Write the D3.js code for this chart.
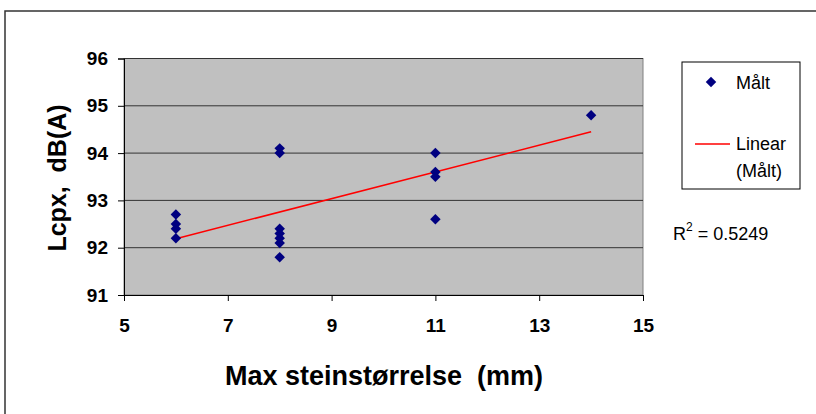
<!DOCTYPE html>
<html>
<head>
<meta charset="utf-8">
<script src="https://cdn.jsdelivr.net/npm/d3@7"></script>
<style>
  body { margin: 0; background: #fff; }
  text { font-family: "Liberation Sans", Arial, sans-serif; }
</style>
</head>
<body>
<div class="chart"></div>
<script>
// measured values (Max steinstørrelse vs Lcpx)
var stoneSize = [6, 6, 6, 6, 8, 8, 8, 8, 8, 8, 8, 11, 11, 11, 11, 14];
var lcpx = [92.7, 92.5, 92.4, 92.2, 94.1, 94.0, 92.4, 92.3, 92.2, 92.1, 91.8, 94.0, 93.6, 93.5, 92.6, 94.8];

// linear trend line endpoints
var trendX = [6, 14];
var trendY = [92.19, 94.45];

var xTicks = [5, 7, 9, 11, 13, 15];
var yTicks = [91, 92, 93, 94, 95, 96];
var rSquared = "0.5249";

var svgWidth = 816, svgHeight = 414;
var margin = { top: 58.5, left: 124, right: 173, bottom: 119 };
var width = svgWidth - margin.left - margin.right;
var height = svgHeight - margin.top - margin.bottom;

var svg = d3.select(".chart")
    .append("svg")
    .attr("width", svgWidth)
    .attr("height", svgHeight);

// outer chart border
svg.append("rect")
    .attr("x", 5).attr("y", 11)
    .attr("width", 830).attr("height", 430)
    .attr("fill", "white")
    .attr("stroke", "#333")
    .attr("stroke-width", 1.5);

var chartGroup = svg.append("g")
    .attr("transform", `translate(${margin.left}, ${margin.top})`);

var x = d3.scaleLinear().domain([5, 15]).range([0, width]);
var y = d3.scaleLinear().domain([91, 96]).range([height, 0]);

// plot area
chartGroup.append("rect")
    .attr("width", width).attr("height", height)
    .attr("fill", "#c0c0c0")
    .attr("stroke", "#808080")
    .attr("stroke-width", 1);

// gridlines
chartGroup.append("g")
    .selectAll("line")
    .data(yTicks.slice(1))
    .enter()
    .append("line")
    .attr("x1", 0).attr("x2", width)
    .attr("y1", d => y(d)).attr("y2", d => y(d))
    .attr("stroke", "#333")
    .attr("stroke-width", 1);

var xAxis = d3.axisBottom(x).tickValues(xTicks).tickFormat(d3.format("d")).tickSize(6).tickPadding(18);
var yAxis = d3.axisLeft(y).tickValues(yTicks).tickFormat(d3.format("d")).tickSize(6).tickPadding(10);

var gx = chartGroup.append("g")
    .attr("transform", `translate(0,${height})`)
    .call(xAxis);
var gy = chartGroup.append("g").call(yAxis);

[gx, gy].forEach(function (g) {
    g.select(".domain").attr("stroke", "#000");
    g.selectAll(".tick line").attr("stroke", "#000");
    g.selectAll(".tick text")
        .attr("fill", "#000")
        .style("font-size", "19px")
        .style("font-weight", "bold")
        .style("font-family", "'Liberation Sans', Arial, sans-serif");
});

// trend line
chartGroup.append("line")
    .attr("x1", x(trendX[0])).attr("y1", y(trendY[0]))
    .attr("x2", x(trendX[1])).attr("y2", y(trendY[1]))
    .attr("stroke", "#ff0000")
    .attr("stroke-width", 1.5);

// points
var diamond = d3.symbol().type(d3.symbolDiamond2).size(70);
chartGroup.selectAll(".pt")
    .data(stoneSize)
    .enter()
    .append("path")
    .attr("class", "pt")
    .attr("d", diamond)
    .attr("transform", (d, i) => `translate(${x(d)},${y(lcpx[i])})`)
    .attr("fill", "#000080");

// axis titles
svg.append("text")
    .attr("transform", "translate(66,178) rotate(-90)")
    .attr("text-anchor", "middle")
    .attr("xml:space", "preserve")
    .style("font-size", "25px")
    .style("font-weight", "bold")
    .text("Lcpx,  dB(A)");

svg.append("text")
    .attr("x", 384).attr("y", 385)
    .attr("text-anchor", "middle")
    .attr("xml:space", "preserve")
    .style("font-size", "27px")
    .style("font-weight", "bold")
    .text("Max steinstørrelse  (mm)");

// legend
var legend = svg.append("g");
legend.append("rect")
    .attr("x", 682).attr("y", 62)
    .attr("width", 118).attr("height", 127)
    .attr("fill", "white")
    .attr("stroke", "#000")
    .attr("stroke-width", 1);
legend.append("path")
    .attr("d", diamond)
    .attr("transform", "translate(711,82)")
    .attr("fill", "#000080");
legend.append("text")
    .attr("x", 736).attr("y", 89)
    .style("font-size", "18px")
    .text("Målt");
legend.append("line")
    .attr("x1", 695).attr("x2", 730)
    .attr("y1", 144).attr("y2", 144)
    .attr("stroke", "#ff0000")
    .attr("stroke-width", 1.5);
legend.append("text")
    .attr("x", 736).attr("y", 150)
    .style("font-size", "18px")
    .text("Linear");
legend.append("text")
    .attr("x", 736).attr("y", 177)
    .style("font-size", "18px")
    .text("(Målt)");

// R squared
var rText = svg.append("text")
    .attr("x", 673).attr("y", 240)
    .style("font-size", "18px");
rText.append("tspan").text("R");
rText.append("tspan").attr("dy", -9).style("font-size", "12px").text("2");
rText.append("tspan").attr("dy", 9).text(" = " + rSquared);
</script>
</body>
</html>
